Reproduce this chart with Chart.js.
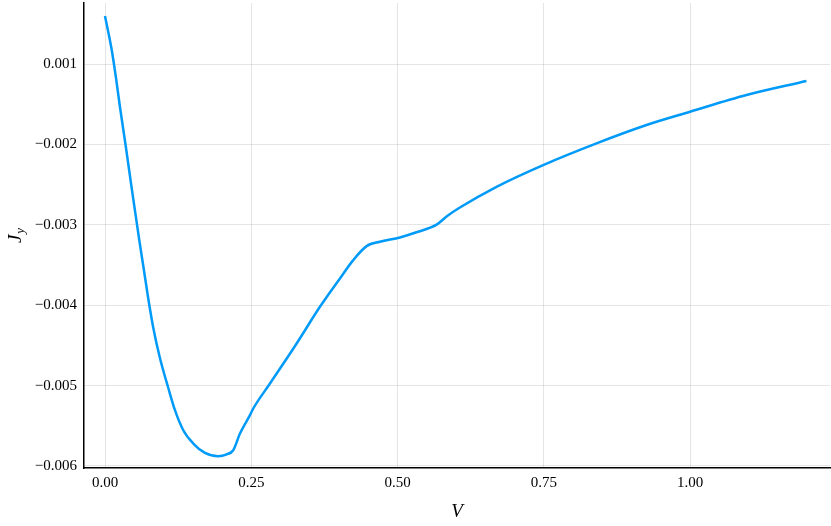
<!DOCTYPE html>
<html>
<head>
<meta charset="utf-8">
<script src="https://cdn.jsdelivr.net/npm/chart.js@4/dist/chart.umd.min.js"></script>
<style>
  html, body { margin: 0; padding: 0; background: #fff; }
  #wrap { width: 831px; height: 526px; position: relative; }
</style>
</head>
<body>
<div id="wrap"><canvas id="jyChart"></canvas></div>
<script>
// values
const voltage = [0, 0.0115, 0.0188, 0.0256, 0.0359, 0.0456, 0.0586, 0.0654, 0.074, 0.0825, 0.094,
  0.1082, 0.1196, 0.1338, 0.1509, 0.1709, 0.1936, 0.208, 0.2192, 0.2307, 0.2478, 0.2534, 0.282,
  0.3276, 0.3674, 0.4016, 0.4243, 0.4472, 0.47, 0.5041, 0.535, 0.5668, 0.585, 0.6066, 0.6693,
  0.749, 0.8402, 0.9257, 1.0, 1.0966, 1.199];
const currentJy = [-0.000403, -0.000826, -0.001174, -0.001535, -0.002045, -0.002543, -0.00319,
  -0.00351, -0.00392, -0.00428, -0.00466, -0.00503, -0.005306, -0.005555, -0.005721, -0.005838,
  -0.005879, -0.005855, -0.005804, -0.005596, -0.005368, -0.005285, -0.004974, -0.004476, -0.00402,
  -0.003667, -0.003439, -0.003265, -0.003211, -0.003157, -0.003087, -0.002998, -0.00289, -0.002785,
  -0.002527, -0.002257, -0.001987, -0.001759, -0.001594, -0.001386, -0.001212];

const xTickValues = [0, 0.25, 0.5, 0.75, 1.0];
const xTickLabels = ["0.00", "0.25", "0.50", "0.75", "1.00"];
const yTickValues = [-0.001, -0.002, -0.003, -0.004, -0.005, -0.006];
const yTickLabels = ["0.001", "\u22120.002", "\u22120.003", "\u22120.004", "\u22120.005", "\u22120.006"];

const xLabel = "V";
const yLabel = "J";
const yLabelSub = "y";

const serif = "'Liberation Serif', 'DejaVu Serif', serif";

const points = voltage.map((v, i) => ({ x: v, y: currentJy[i] }));

// draws the italic axis titles (the y one needs a subscript)
const axisTitles = {
  id: 'axisTitles',
  afterDraw(chart) {
    const { ctx, chartArea } = chart;
    ctx.save();
    ctx.fillStyle = '#000';
    ctx.textAlign = 'center';
    ctx.textBaseline = 'middle';
    ctx.font = `italic 19px ${serif}`;
    ctx.fillText(xLabel, (chartArea.left + chartArea.right) / 2, 512);

    ctx.translate(16, 236);
    ctx.rotate(-Math.PI / 2);
    ctx.textAlign = 'left';
    ctx.font = `italic 19px ${serif}`;
    const wJ = ctx.measureText(yLabel).width;
    ctx.font = `italic 13px ${serif}`;
    const wY = ctx.measureText(yLabelSub).width;
    const start = -(wJ + wY) / 2;
    ctx.font = `italic 19px ${serif}`;
    ctx.fillText(yLabel, start, 0);
    ctx.font = `italic 13px ${serif}`;
    ctx.fillText(yLabelSub, start + wJ + 1, 5);
    ctx.restore();
  }
};

const ctx = document.getElementById('jyChart').getContext('2d');

new Chart(ctx, {
  type: 'line',
  data: {
    datasets: [{
      data: points,
      borderColor: '#009af9',
      backgroundColor: 'transparent',
      borderWidth: 2.5,
      pointRadius: 0,
      cubicInterpolationMode: 'monotone'
    }]
  },
  options: {
    animation: false,
    responsive: true,
    maintainAspectRatio: false,
    layout: { padding: { top: 3, right: 1, left: 0, bottom: 0 } },
    plugins: {
      legend: { display: false },
      tooltip: { enabled: false }
    },
    scales: {
      x: {
        type: 'linear',
        min: -0.0359,
        max: 1.2393,
        afterBuildTicks: (axis) => { axis.ticks = xTickValues.map(v => ({ value: v })); },
        afterFit: (axis) => {
          axis.height = 58;
          axis.paddingLeft = 0;
          axis.paddingRight = 0;
        },
        ticks: {
          callback: (v) => xTickLabels[xTickValues.indexOf(v)],
          font: { family: serif, size: 15 },
          color: '#000',
          padding: 6,
          maxRotation: 0
        },
        grid: { color: 'rgba(0,0,0,0.1)', drawTicks: false },
        border: { color: '#000', width: 1.5 }
      },
      y: {
        type: 'linear',
        min: -0.006025,
        max: -0.000241,
        afterBuildTicks: (axis) => { axis.ticks = yTickValues.map(v => ({ value: v })); },
        afterFit: (axis) => {
          axis.width = 84;
          axis.paddingTop = 0;
          axis.paddingBottom = 0;
        },
        ticks: {
          callback: (v) => yTickLabels[yTickValues.indexOf(v)],
          font: { family: serif, size: 15 },
          color: '#000',
          padding: 7
        },
        grid: { color: 'rgba(0,0,0,0.1)', drawTicks: false },
        border: { color: '#000', width: 1.5 }
      }
    }
  },
  plugins: [axisTitles]
});
</script>
</body>
</html>
